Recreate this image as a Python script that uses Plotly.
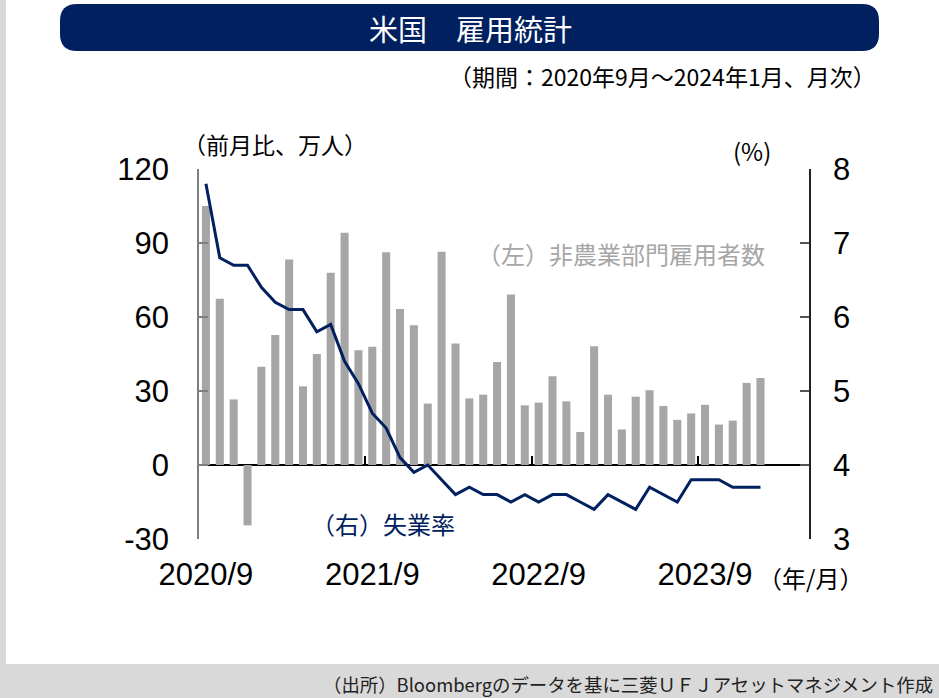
import plotly.graph_objects as go

# ---------------- data ----------------
months = [
    "2020/9", "2020/10", "2020/11", "2020/12",
    "2021/1", "2021/2", "2021/3", "2021/4", "2021/5", "2021/6", "2021/7", "2021/8",
    "2021/9", "2021/10", "2021/11", "2021/12",
    "2022/1", "2022/2", "2022/3", "2022/4", "2022/5", "2022/6", "2022/7", "2022/8",
    "2022/9", "2022/10", "2022/11", "2022/12",
    "2023/1", "2023/2", "2023/3", "2023/4", "2023/5", "2023/6", "2023/7", "2023/8",
    "2023/9", "2023/10", "2023/11", "2023/12",
    "2024/1",
]
payrolls = [  # 非農業部門雇用者数 前月比（万人）
    105.0, 67.4, 26.6, -24.5,
    39.8, 52.7, 83.3, 31.9, 45.0, 77.9, 94.2, 46.5,
    47.9, 86.3, 63.2, 56.7,
    24.9, 86.5, 49.3, 27.0, 28.5, 41.8, 69.1, 24.2,
    25.3, 36.0, 25.8, 13.4,
    48.1, 28.5, 14.4, 27.7, 30.3, 23.9, 18.3, 20.9,
    24.4, 16.4, 18.0, 33.3,
    35.3,
]
unemployment = [  # 失業率（%）
    7.8, 6.8, 6.7, 6.7,
    6.4, 6.2, 6.1, 6.1, 5.8, 5.9, 5.4, 5.1,
    4.7, 4.5, 4.1, 3.9,
    4.0, 3.8, 3.6, 3.7, 3.6, 3.6, 3.5, 3.6,
    3.5, 3.6, 3.6, 3.5,
    3.4, 3.6, 3.5, 3.4, 3.7, 3.6, 3.5, 3.8,
    3.8, 3.8, 3.7, 3.7,
    3.7,
]
label_months = ["2020/9", "2021/9", "2022/9", "2023/9"]
left_ticks = [-30, 0, 30, 60, 90, 120]
left_ticktext = ["-30", "0", "30", "60", "90", "120"]
right_ticks = [3, 4, 5, 6, 7, 8]

# ---------------- styling ----------------
W, H = 939, 698
ML, MR, MT, MB = 199, 130, 169, 159
PW, PH = W - ML - MR, H - MT - MB
NAVY = "#002060"
BAR = "#a6a6a6"
JP = "Noto Sans CJK JP"
NUM = "Liberation Sans, Arial"
NUMSIZE = 31

def px(x):
    return (x - ML) / PW

def py(y):
    return (H - MB - y) / PH

idx = list(range(len(months)))
label_idx = [months.index(m) for m in label_months]
boundary_ticks = [-0.5] + [i - 0.5 for i in label_idx[1:]]
n_slots = len(months) + 3
xr = [-0.5, n_slots - 0.5]

fig = go.Figure()
fig.add_trace(go.Bar(
    x=idx, y=payrolls, marker_color=BAR, marker_line_width=0,
    width=0.58, name="（左）非農業部門雇用者数", xaxis="x", yaxis="y",
))
fig.add_trace(go.Scatter(
    x=idx, y=unemployment, mode="lines", line=dict(color=NAVY, width=3),
    name="（右）失業率", xaxis="x2", yaxis="y2",
))

fig.update_layout(
    width=W, height=H,
    margin=dict(l=ML, r=MR, t=MT, b=MB, pad=0),
    paper_bgcolor="white", plot_bgcolor="white",
    showlegend=False,
    xaxis=dict(
        range=xr, tickmode="array", tickvals=label_idx, ticktext=label_months,
        ticks="", showline=False, showgrid=False, zeroline=False,
        tickfont=dict(family=NUM, size=NUMSIZE, color="#000"),
        ticklabelstandoff=14,
    ),
    xaxis2=dict(
        range=xr, overlaying="x", anchor="free", position=30 / 150,
        tickmode="array", tickvals=boundary_ticks, ticks="inside",
        ticklen=9, tickwidth=2, tickcolor="#000",
        showticklabels=False, showline=False, showgrid=False, zeroline=False,
    ),
    yaxis=dict(
        range=[-30, 120], tickmode="array", tickvals=left_ticks, ticktext=left_ticktext,
        ticks="inside", ticklen=9, tickwidth=1.5, tickcolor="#7f7f7f",
        showline=True, linecolor="#7f7f7f", linewidth=1.5,
        showgrid=False, zeroline=True, zerolinecolor="#000", zerolinewidth=2,
        tickfont=dict(family=NUM, size=NUMSIZE, color="#000"),
        ticklabelstandoff=22,
    ),
    yaxis2=dict(
        range=[3, 8], tickmode="array", tickvals=right_ticks,
        overlaying="y", side="right", anchor="x2",
        ticks="inside", ticklen=9, tickwidth=1.5, tickcolor="#555",
        showline=True, linecolor="#222", linewidth=1.5,
        showgrid=False, zeroline=False,
        tickfont=dict(family=NUM, size=NUMSIZE, color="#000"),
        ticklabelstandoff=16,
    ),
)

def rounded_path(x0, y0, x1, y1, r):
    X0, X1 = px(x0), px(x1)
    Y0, Y1 = py(y0), py(y1)
    rx, ry = r / PW, r / PH
    return (f"M {X0+rx},{Y0} L {X1-rx},{Y0} Q {X1},{Y0} {X1},{Y0-ry} "
            f"L {X1},{Y1+ry} Q {X1},{Y1} {X1-rx},{Y1} L {X0+rx},{Y1} "
            f"Q {X0},{Y1} {X0},{Y1+ry} L {X0},{Y0-ry} Q {X0},{Y0} {X0+rx},{Y0} Z")

fig.add_shape(type="rect", xref="paper", yref="paper",
              x0=px(0), x1=px(6), y0=py(664), y1=py(0),
              fillcolor="#d9d9d9", line_width=0, layer="below")
fig.add_shape(type="rect", xref="paper", yref="paper",
              x0=px(0), x1=px(W), y0=py(H), y1=py(664),
              fillcolor="#d9d9d9", line_width=0, layer="below")
fig.add_shape(type="path", xref="paper", yref="paper",
              path=rounded_path(60, 4, 879, 51, 17),
              fillcolor=NAVY, line_width=0, layer="below")

def note(text, x, y, size, color="#000", xanchor="center", family=JP):
    fig.add_annotation(text=text, x=px(x), y=py(y), xref="paper", yref="paper",
                       xanchor=xanchor, yanchor="middle", showarrow=False,
                       font=dict(family=family, size=size, color=color))

note("米国　雇用統計", 470, 28, 29, color="white")
note("（期間：2020年9月～2024年1月、月次）", 878, 76, 23, xanchor="right")
note("（前月比、万人）", 181, 144, 23, xanchor="left")
note("(%)", 752, 150, 24)
note("（左）非農業部門雇用者数", 475, 253, 24, color=BAR, xanchor="left")
note("（右）失業率", 309, 523, 24, color=NAVY, xanchor="left")
note("（年/月）", 810, 577, 24)
note("（出所）Bloombergのデータを基に三菱ＵＦＪアセットマネジメント作成", 935, 684, 18.4,
     color="#222", xanchor="right")

fig.write_html(
    "out.html",
    config={"displayModeBar": False},
    post_script="document.body.style.margin='0';document.body.style.overflow='hidden';",
)
